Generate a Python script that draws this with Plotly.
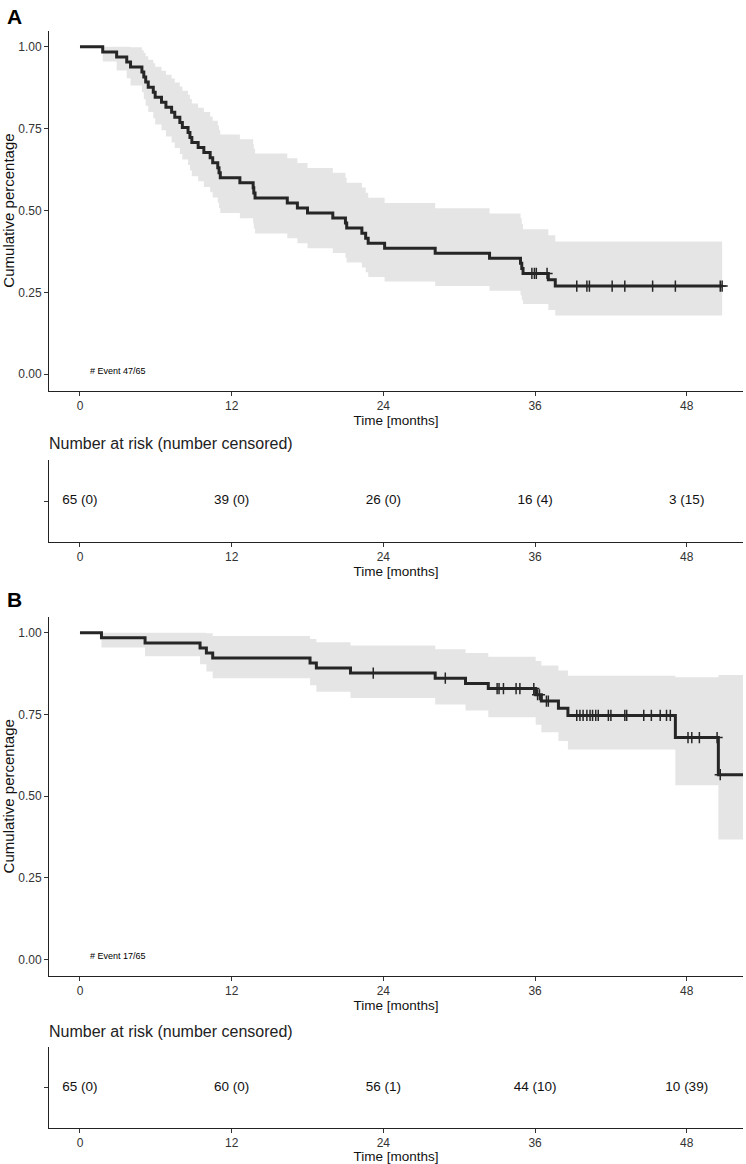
import plotly.graph_objects as go

# ---------------- Panel A data ----------------
a_time = [0, 1.8, 2.9, 3.7, 4.0, 4.9, 5.05, 5.2, 5.4, 5.8, 5.95, 6.45, 6.8, 7.25, 7.5, 7.9, 8.1,
          8.55, 8.7, 8.85, 9.35, 9.8, 10.3, 10.5, 10.9, 11.0, 11.1, 12.65, 13.7, 13.75, 13.85,
          16.4, 17.2, 18.0, 20.0, 21.0, 21.1, 22.3, 22.6, 22.8, 24.1, 28.1, 32.4, 34.85, 34.95,
          35.05, 37.05, 37.6, 50.8]
a_surv = [1, .9846, .9692, .9538, .9385, .9231, .9077, .8923, .8769, .8615, .8462, .8308, .8154,
          .8, .7846, .7692, .7538, .7385, .7231, .7077, .6923, .6769, .6615, .6462, .6308, .6154,
          .6, .5846, .5692, .5538, .5385, .5231, .5077, .4923, .4769, .4615, .4462, .4308, .4154,
          .4, .3846, .3692, .3538, .3385, .3231, .3077, .2885, .2692, .2692]
a_lower = [1, .955, .928, .904, .882, .861, .840, .820, .801, .782, .763, .745, .726, .708, .691,
           .673, .656, .639, .622, .605, .589, .572, .556, .540, .524, .508, .492, .476, .461,
           .445, .430, .415, .400, .385, .370, .355, .341, .326, .311, .297, .283, .269, .255,
           .241, .227, .214, .196, .179, .179]
a_upper = [1, 1, 1, 1, .999, .990, .981, .971, .961, .950, .939, .927, .915, .903, .891, .879,
           .866, .854, .841, .827, .814, .801, .787, .774, .760, .746, .732, .718, .703, .689,
           .674, .660, .645, .630, .615, .600, .585, .570, .554, .539, .523, .507, .491, .476,
           .459, .443, .424, .405, .405]
a_cens_t = [35.75, 35.95, 36.1, 36.95, 39.3, 40.1, 40.3, 42.1, 43.1, 45.3, 47.1, 50.65, 50.8]
a_cens_s = [.3077, .3077, .3077, .3077, .2692, .2692, .2692, .2692, .2692, .2692, .2692, .2692, .2692]
a_risk = ["65 (0)", "39 (0)", "26 (0)", "16 (4)", "3 (15)"]
a_event_label = "# Event 47/65"

# ---------------- Panel B data ----------------
b_time = [0, 1.7, 5.15, 9.5, 10.0, 10.5, 18.2, 18.7, 21.4, 28.1, 30.5, 32.3, 36.05, 36.5, 37.85,
          38.6, 47.1, 50.5, 53.5]
b_surv = [1, .9846, .9692, .9538, .9385, .9231, .9077, .8923, .8769, .8613, .8453, .8294, .8105,
          .7912, .7692, .7473, .6794, .5661, .5661]
b_lower = [1, .955, .928, .904, .882, .861, .840, .820, .801, .781, .762, .742, .719, .696, .669,
           .643, .534, .368, .368]
b_upper = [1, 1, 1, 1, .999, .990, .981, .971, .961, .950, .938, .927, .914, .900, .885, .869,
           .864, .871, .871]
b_cens_t = [23.2, 28.9, 33.0, 33.15, 33.5, 34.5, 34.8, 35.9, 36.2, 36.35, 36.9, 37.05,
            39.3, 39.55, 39.8, 40.1, 40.35, 40.55, 40.8, 41.0, 41.8, 42.0, 43.1, 43.25, 44.6,
            45.2, 45.9, 46.4, 46.7, 48.1, 48.4, 49.0, 50.4, 50.65]
b_cens_s = [.8769, .8613, .8294, .8294, .8294, .8294, .8294, .8294, .8105, .8105, .7912, .7912,
            .7473, .7473, .7473, .7473, .7473, .7473, .7473, .7473, .7473, .7473, .7473, .7473,
            .7473, .7473, .7473, .7473, .7473, .6794, .6794, .6794, .6794, .5661]
b_risk = ["65 (0)", "60 (0)", "56 (1)", "44 (10)", "10 (39)"]
b_event_label = "# Event 17/65"

risk_times = [0, 12, 24, 36, 48]
x_ticks = [0, 12, 24, 36, 48]
y_ticks = [0, 0.25, 0.5, 0.75, 1.0]
y_ticktext = ["0.00", "0.25", "0.50", "0.75", "1.00"]

W, H = 746, 1164
FONT = "Liberation Sans, Arial, sans-serif"
LINE = "#262626"
BAND = "#e5e5e5"
TICKC = "#333333"


def py(p):
    return 1 - p / H


fig = go.Figure()


def add_km(xa, ya, t, s, lo, up, ct, cs):
    fig.add_trace(go.Scatter(x=t, y=lo, mode="lines", line=dict(width=0, shape="hv"),
                             xaxis=xa, yaxis=ya, showlegend=False, hoverinfo="skip"))
    fig.add_trace(go.Scatter(x=t, y=up, mode="lines", line=dict(width=0, shape="hv"),
                             fill="tonexty", fillcolor=BAND,
                             xaxis=xa, yaxis=ya, showlegend=False, hoverinfo="skip"))
    fig.add_trace(go.Scatter(x=t, y=s, mode="lines", line=dict(width=3, shape="hv", color=LINE),
                             xaxis=xa, yaxis=ya, showlegend=False))
    fig.add_trace(go.Scatter(x=ct, y=cs, mode="markers",
                             marker=dict(symbol="cross-thin", size=8,
                                         line=dict(width=1.5, color=LINE)),
                             xaxis=xa, yaxis=ya, showlegend=False))


add_km("x", "y", a_time, a_surv, a_lower, a_upper, a_cens_t, a_cens_s)
add_km("x3", "y3", b_time, b_surv, b_lower, b_upper, b_cens_t, b_cens_s)

fig.add_trace(go.Scatter(x=risk_times, y=[0] * 5, mode="text", text=a_risk,
                         textfont=dict(size=13.5, color="#111", family=FONT),
                         xaxis="x2", yaxis="y2", showlegend=False))
fig.add_trace(go.Scatter(x=risk_times, y=[0] * 5, mode="text", text=b_risk,
                         textfont=dict(size=13.5, color="#111", family=FONT),
                         xaxis="x4", yaxis="y4", showlegend=False))

xdom = [49 / W, 743 / W]
xr = [-2.45, 52.45]

xbase = dict(domain=xdom, range=xr, tickvals=x_ticks, showline=True, linecolor="#222",
             linewidth=1, ticks="outside", ticklen=4, tickcolor="#333",
             tickfont=dict(size=12, color=TICKC, family=FONT), showgrid=False,
             zeroline=False, automargin=False,
             title=dict(text="Time [months]", font=dict(size=13.5, color="#111", family=FONT),
                        standoff=0))
ybase = dict(range=[-0.05, 1.05], tickvals=y_ticks, ticktext=y_ticktext, showline=True,
             linecolor="#222", linewidth=1, ticks="outside", ticklen=4, tickcolor="#333",
             tickfont=dict(size=12, color=TICKC, family=FONT), showgrid=False,
             zeroline=False, automargin=False,
             title=dict(text="Cumulative percentage",
                        font=dict(size=15, color="#111", family=FONT), standoff=3))
ytab = dict(range=[-1, 1], tickvals=[0], ticktext=[""], showline=True, linecolor="#222",
            linewidth=1, ticks="outside", ticklen=4, tickcolor="#333", showgrid=False,
            zeroline=False, automargin=False)

fig.update_layout(
    template="none",
    width=W, height=H, margin=dict(l=0, r=0, t=0, b=0),
    paper_bgcolor="white", plot_bgcolor="white",
    font=dict(family=FONT, color="#333"),
    xaxis=dict(xbase, anchor="y"),
    yaxis=dict(ybase, anchor="x", domain=[py(390.5), py(30.5)]),
    xaxis2=dict(xbase, anchor="y2"),
    yaxis2=dict(ytab, anchor="x2", domain=[py(542), py(460)]),
    xaxis3=dict(xbase, anchor="y3"),
    yaxis3=dict(ybase, anchor="x3", domain=[py(976), py(616.5)]),
    xaxis4=dict(xbase, anchor="y4"),
    yaxis4=dict(ytab, anchor="x4", domain=[py(1128), py(1047)]),
)

annots = [
    dict(text="<b>A</b>", x=5 / W, y=py(3), xref="paper", yref="paper", xanchor="left",
         yanchor="top", showarrow=False, font=dict(size=21, color="black", family=FONT)),
    dict(text="<b>B</b>", x=5 / W, y=py(586), xref="paper", yref="paper", xanchor="left",
         yanchor="top", showarrow=False, font=dict(size=21, color="black", family=FONT)),
    dict(text="Number at risk (number censored)", x=47 / W, y=py(443), xref="paper",
         yref="paper", xanchor="left", yanchor="middle", showarrow=False,
         font=dict(size=16, color="#222", family=FONT)),
    dict(text="Number at risk (number censored)", x=47 / W, y=py(1031), xref="paper",
         yref="paper", xanchor="left", yanchor="middle", showarrow=False,
         font=dict(size=16, color="#222", family=FONT)),
    dict(text=a_event_label, x=3.0, y=0.01, xref="x", yref="y", showarrow=False,
         font=dict(size=9, color="black", family=FONT)),
    dict(text=b_event_label, x=3.0, y=0.01, xref="x3", yref="y3", showarrow=False,
         font=dict(size=9, color="black", family=FONT)),
]
fig.update_layout(annotations=annots)

fig.write_html("out.html", post_script="document.body.style.margin='0';",
               config={"displayModeBar": False})
